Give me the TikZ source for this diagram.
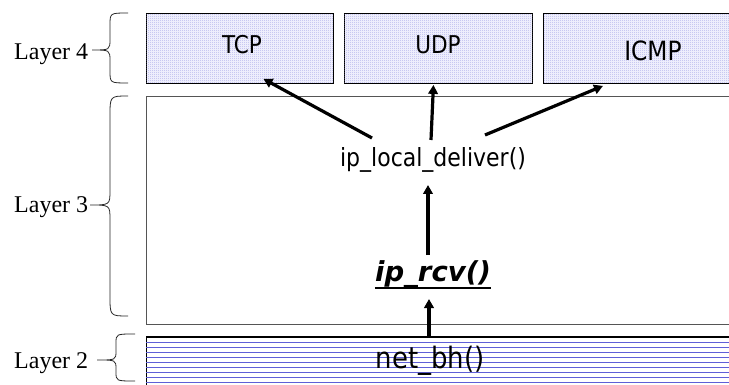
\documentclass[tikz,border=0pt]{standalone}
\usepackage{fontspec}
\setmainfont{Liberation Serif}
\newfontfamily\uifont[FakeStretch=0.88]{DejaVu Sans}
\newfontfamily\uiboldfont{DejaVu Sans}
\usetikzlibrary{arrows.meta,patterns.meta}

% fine dot screen used inside the protocol boxes
\pgfdeclarepattern{
  name=finedots,
  type=uncolored,
  bottom left={\pgfpointorigin},
  top right={\pgfqpoint{2pt}{2pt}},
  tile size={\pgfqpoint{2pt}{2pt}},
  code={\pgfpathrectangle{\pgfpointorigin}{\pgfqpoint{1pt}{1pt}}\pgfusepath{fill}}
}

\definecolor{dotblue}{RGB}{150,150,228}
\definecolor{boxfill}{RGB}{238,238,252}
\definecolor{stripe}{RGB}{95,95,215}
\definecolor{frame3}{RGB}{85,85,85}

% left curly brace: x_end, x_mid, x_tip, y_top, y_tip, y_bot, end radius, tip radius
\newcommand{\sidebrace}[8]{%
  \draw[bracestroke] (#1,#4) .. controls (#2,#4) .. (#2,{#4+#7})
    -- (#2,{#5-#8}) .. controls (#2,#5) .. (#3,#5)
    .. controls (#2,#5) .. (#2,{#5+#8})
    -- (#2,{#6-#7}) .. controls (#2,#6) .. (#1,#6);}

\tikzset{
  protobox/.style={draw=black, line width=0.9pt, fill=boxfill,
    postaction={pattern=finedots, pattern color=dotblue},
    minimum height=70pt, anchor=north west, inner sep=0pt},
  layerlabel/.style={inner sep=0pt, anchor=base west,
    font=\fontsize{24}{28}\selectfont},
  ui/.style={inner sep=0pt, anchor=base, font=\uifont\fontsize{24.5}{28}\selectfont},
  flow/.style={line width=3.2pt, -{Triangle[length=9pt,width=9.5pt]}},
  bracestroke/.style={line width=0.8pt, draw=black!85},
  stripeline/.style={line width=0.8pt, draw=stripe},
}

\begin{document}
\begin{tikzpicture}[x=1pt,y=-1pt]
\useasboundingbox (0,0) rectangle (729,385);
\clip (0,0) rectangle (729,385);
\fill[white] (0,0) rectangle (729,385);

% layer 4: transport protocols
\node[protobox, minimum width=187pt] (tcp) at (146,13) {};
\node[protobox, minimum width=188pt] (udp) at (344,13) {};
\node[protobox, minimum width=200pt] (icmp) at (543,13) {};
\node[ui] (tcplbl) at (242,53.5) {TCP};
\node[ui] (udplbl) at (438,54) {UDP};
\node[ui, font=\uifont\fontsize{26.5}{30}\selectfont] (icmplbl) at (653,61) {ICMP};

% layer 3: IP
\node[draw=frame3, line width=1.2pt, minimum width=600pt, minimum height=228pt,
      anchor=north west, inner sep=0pt] (l3) at (146,96) {};

% layer 2: striped device layer
\node[draw=black, line width=1.2pt, fill=white, minimum width=600pt, minimum height=60pt,
      anchor=north west, inner sep=0pt] (l2) at (146,337) {};
\foreach \k in {0,...,9}
  \draw[stripeline] ([yshift={-5pt-5pt*\k}]l2.north west) -- ++(600,0);
\draw[line width=1.4pt] (l2.north west) -- (l2.north east);

% function names
\node[ui, font=\uifont\fontsize{25}{28}\selectfont] (deliver) at (433,167) {ip\_local\_deliver()};
\node[inner sep=0pt, anchor=base, font=\uiboldfont\bfseries\itshape\fontsize{27.5}{30}\selectfont]
  (rcv) at (433,281) {ip\_rcv()};
\draw[line width=1.8pt] ([yshift=-7pt]rcv.base west) -- ([yshift=-7pt]rcv.base east);
\node[ui, font=\uifont\fontsize{29.5}{32}\selectfont] (netbh) at (430,368) {net\_bh()};

% packet flow
\draw[flow] ([shift={(-1,-31)}]netbh.base) -- ([shift={(-4,18)}]rcv.base);
\draw[flow] ([shift={(-5,-26)}]rcv.base) -- ([shift={(-5,18)}]deliver.base);
\draw[flow] ([shift={(-61,-29)}]deliver.base) -- ([shift={(23.5,-5)}]tcp.south);
\draw[flow] ([shift={(-2,-27)}]deliver.base) -- ([shift={(-5,1)}]udp.south);
\draw[flow] ([shift={(52,-32)}]deliver.base) -- ([shift={(60,2)}]icmp.south west);

% layer labels and braces
\node[layerlabel] (lay4) at (14,60) {Layer 4};
\node[layerlabel] (lay3) at (14,213) {Layer 3};
\node[layerlabel] (lay2) at (14,368) {Layer 2};
\sidebrace{128}{110}{92}{13}{50}{83}{12}{11}
\sidebrace{128}{110}{90}{96}{205}{316}{20}{15}
\sidebrace{135}{116}{97}{334}{360}{381}{9}{9}
\end{tikzpicture}
\end{document}
